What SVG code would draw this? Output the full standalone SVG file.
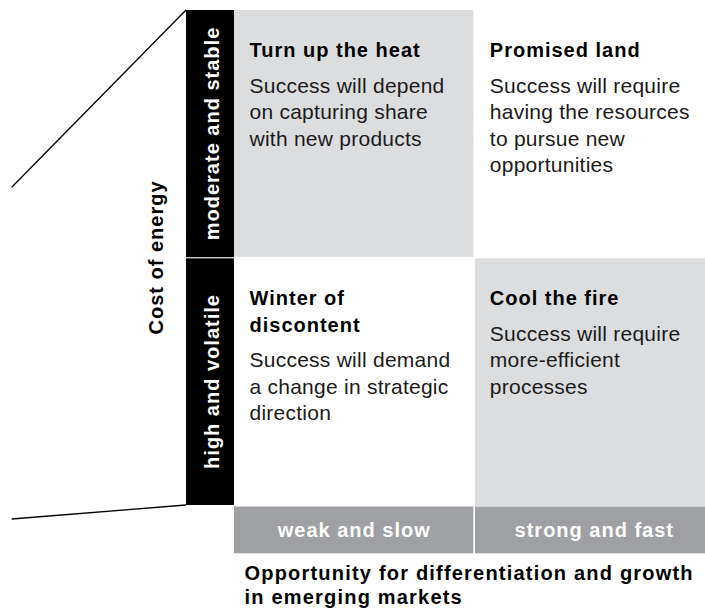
<svg xmlns="http://www.w3.org/2000/svg" width="705" height="609" viewBox="0 0 705 609">
<style>
text{font-family:"Liberation Sans",Arial,sans-serif}
.t{font-size:20px;font-weight:bold;fill:#000;letter-spacing:1px}
.b{font-size:21px;fill:#1a1a1a;letter-spacing:0.25px}
.w{font-size:20px;font-weight:bold;fill:#fff;letter-spacing:1px}
.lt{fill:#dcdddf}
.dk{fill:#9fa0a3}
.bar{fill:#000}
.ln{stroke:#000;stroke-width:1.3;fill:none}
</style>
<rect width="705" height="609" fill="#fff"/>
<g id="connectors">
<line class="ln" x1="186" y1="10" x2="11.7" y2="187.3"/>
<line class="ln" x1="186" y1="505" x2="11.7" y2="519"/>
</g>
<g id="axis-y-label">
<text class="t" transform="translate(163,257.5) rotate(-90)" text-anchor="middle">Cost of energy</text>
</g>
<g id="y-moderate">
<rect class="bar" x="186" y="10" width="48" height="247.2"/>
<text class="w" transform="translate(219,133.5) rotate(-90)" text-anchor="middle">moderate and stable</text>
</g>
<g id="y-high">
<rect class="bar" x="186" y="258.3" width="48" height="246.7"/>
<text class="w" transform="translate(219,381.5) rotate(-90)" text-anchor="middle">high and volatile</text>
</g>
<g id="q-turn-up">
<rect class="lt" x="234" y="10" width="239.3" height="246.8"/>
<text class="t" x="249.5" y="56.7">Turn up the heat</text>
<text class="b" x="249.5" y="92.7">Success will depend</text>
<text class="b" x="249.5" y="119.2">on capturing share</text>
<text class="b" x="249.5" y="145.7">with new products</text>
</g>
<g id="q-promised">
<text class="t" x="489.8" y="56.7">Promised land</text>
<text class="b" x="489.8" y="92.7">Success will require</text>
<text class="b" x="489.8" y="119.2">having the resources</text>
<text class="b" x="489.8" y="145.7">to pursue new</text>
<text class="b" x="489.8" y="172.2">opportunities</text>
</g>
<g id="q-winter">
<text class="t" x="249.5" y="305">Winter of</text>
<text class="t" x="249.5" y="331.7">discontent</text>
<text class="b" x="249.5" y="367.3">Success will demand</text>
<text class="b" x="249.5" y="393.8">a change in strategic</text>
<text class="b" x="249.5" y="420.3">direction</text>
</g>
<g id="q-cool">
<rect class="lt" x="475" y="258.3" width="230" height="247.7"/>
<text class="t" x="489.8" y="305">Cool the fire</text>
<text class="b" x="489.8" y="340.5">Success will require</text>
<text class="b" x="489.8" y="367">more-efficient</text>
<text class="b" x="489.8" y="393.5">processes</text>
</g>
<g id="x-weak">
<rect class="dk" x="234" y="506.5" width="239.3" height="46.8"/>
<text class="w" x="354.3" y="536.7" text-anchor="middle">weak and slow</text>
</g>
<g id="x-strong">
<rect class="dk" x="475" y="506.5" width="230" height="46.8"/>
<text class="w" x="594.3" y="536.7" text-anchor="middle">strong and fast</text>
</g>
<g id="axis-x-label">
<text class="t" x="244.5" y="580" style="letter-spacing:1.2px">Opportunity for differentiation and growth</text>
<text class="t" x="244.5" y="604.3" style="letter-spacing:1.2px">in emerging markets</text>
</g>
</svg>
